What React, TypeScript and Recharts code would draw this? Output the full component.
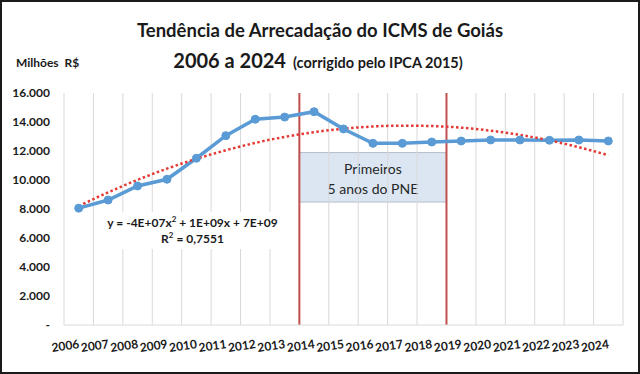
import React from "react";
import {
  LineChart,
  Line,
  XAxis,
  YAxis,
  ReferenceLine,
  ReferenceArea,
} from "recharts";

const years = [
  "2006", "2007", "2008", "2009", "2010", "2011", "2012", "2013", "2014", "2015",
  "2016", "2017", "2018", "2019", "2020", "2021", "2022", "2023", "2024",
];

// arrecadação em milhões R$
const icms = [
  8060, 8620, 9590, 10050, 11500, 13060, 14190, 14340, 14710, 13520,
  12530, 12530, 12620, 12690, 12760, 12760, 12740, 12760, 12690,
];

// linha de tendência polinomial
const trend = [
  8200, 9150, 10010, 10780, 11460, 12050, 12560, 12970, 13300, 13540,
  13690, 13750, 13720, 13610, 13400, 13110, 12730, 12260, 11710,
];

const yTicks = [0, 2000, 4000, 6000, 8000, 10000, 12000, 14000, 16000];

const data = years.map((year, i) => ({ year, icms: icms[i], trend: trend[i] }));

const FONT = "Lato, 'Open Sans', sans-serif";
const GRID = "#d9d9d9";
const RED = "#c0504d";

const fmt = (v: number) =>
  v === 0 ? "-" : v.toString().replace(/\B(?=(\d{3})+(?!\d))/g, ".");

const YearTick = ({ x, y, payload }: any) => {
  const tx = x + 1;
  const ty = y + 21;
  return (
    <g transform={`translate(${tx}, ${ty}) rotate(-8)`}>
      <text
        x={0}
        y={0}
        textAnchor="end"
        fontSize={12}
        fontWeight={700}
        fontFamily={FONT}
        fill="#1a1a1a"
      >
        {payload.value}
      </text>
    </g>
  );
};

const BoxLabel = ({ viewBox }: any) => {
  const { x, y, width } = viewBox;
  const cx = x + width / 2;
  return (
    <text textAnchor="middle" fontSize={14} fontFamily={FONT} fill="#262626">
      <tspan x={cx} y={y + 21}>Primeiros</tspan>
      <tspan x={cx} y={y + 41}>5 anos do PNE</tspan>
    </text>
  );
};

export default function App() {
  return (
    <div
      style={{
        position: "absolute",
        left: 0,
        top: 0,
        width: 640,
        height: 374,
        background: "#fff",
        fontFamily: FONT,
      }}
    >
      <div
        style={{
          position: "absolute",
          left: 0,
          top: 19,
          width: 640,
          textAlign: "center",
          fontSize: 18.5,
          fontWeight: 700,
          color: "#1a1a1a",
        }}
      >
        Tendência de Arrecadação do ICMS de Goiás
      </div>
      <div
        style={{
          position: "absolute",
          left: 0,
          top: 48,
          width: 636,
          textAlign: "center",
          fontWeight: 700,
          color: "#1a1a1a",
          whiteSpace: "pre",
        }}
      >
        <span style={{ fontSize: 20 }}>2006 a 2024</span>
        <span style={{ fontSize: 14.5 }}>{"  (corrigido pelo IPCA 2015)"}</span>
      </div>
      <div
        style={{
          position: "absolute",
          left: 16,
          top: 55,
          fontSize: 12,
          fontWeight: 700,
          color: "#1a1a1a",
          whiteSpace: "pre",
        }}
      >
        {"Milhões  R$"}
      </div>

      <LineChart
        width={640}
        height={374}
        data={data}
        margin={{ top: 93, right: 17, bottom: 19, left: 0 }}
      >
        <XAxis
          dataKey="year"
          scale="band"
          height={30}
          tickLine={false}
          tickSize={0}
          axisLine={{ stroke: GRID }}
          tick={<YearTick />}
          interval={0}
        />
        <YAxis
          width={64}
          domain={[0, 16000]}
          ticks={yTicks}
          tickFormatter={fmt}
          axisLine={false}
          tickLine={false}
          tickSize={0}
          tickMargin={14}
          tick={{ fontSize: 12, fontWeight: 700, fill: "#1a1a1a", fontFamily: FONT }}
        />
        {years.map((y) => (
          <ReferenceLine key={y} x={y} position="start" stroke={GRID} strokeWidth={1} />
        ))}
        <ReferenceLine x="2024" position="end" stroke={GRID} strokeWidth={1} />
        <ReferenceArea
          x1="2014"
          x2="2018"
          y1={8480}
          y2={11890}
          fill="#dce6f2"
          fillOpacity={1}
          stroke="#b4bcc8"
          strokeWidth={1}
          label={<BoxLabel />}
        />
        <ReferenceLine x="2014" position="start" stroke={RED} strokeWidth={2} />
        <ReferenceLine x="2018" position="end" stroke={RED} strokeWidth={2} />
        <Line
          dataKey="icms"
          stroke="#5b9bd5"
          strokeWidth={3.5}
          dot={{ r: 4, fill: "#5b9bd5", stroke: "#5b9bd5", strokeWidth: 1 }}
          isAnimationActive={false}
        />
        <Line
          dataKey="trend"
          type="monotone"
          stroke="#e53935"
          strokeWidth={2.5}
          strokeDasharray="2.5 2.5"
          dot={false}
          isAnimationActive={false}
        />
      </LineChart>

      <div
        style={{
          position: "absolute",
          left: 100,
          top: 212,
          width: 185,
          height: 37,
          background: "#fff",
          textAlign: "center",
          fontSize: 12,
          fontWeight: 700,
          color: "#1a1a1a",
          lineHeight: "16px",
          paddingTop: 3,
          boxSizing: "border-box",
        }}
      >
        <div>
          y = -4E+07x<sup style={{ fontSize: 8, lineHeight: 0 }}>2</sup> + 1E+09x + 7E+09
        </div>
        <div>
          R<sup style={{ fontSize: 8, lineHeight: 0 }}>2</sup> = 0,7551
        </div>
      </div>

      <div
        style={{
          position: "absolute",
          left: 0,
          top: 0,
          width: 640,
          height: 374,
          border: "2px solid #1a1a1a",
          boxSizing: "border-box",
          pointerEvents: "none",
        }}
      />
    </div>
  );
}
